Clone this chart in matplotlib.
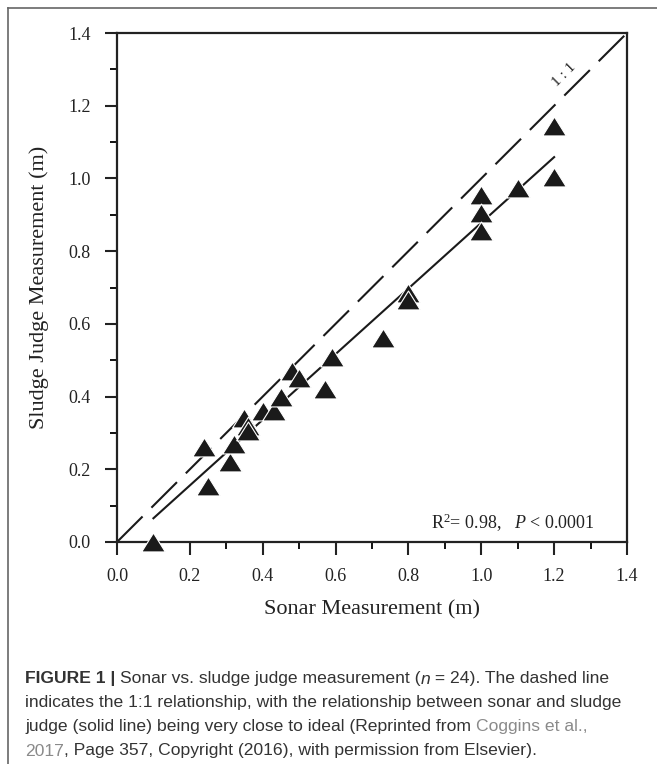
import matplotlib
matplotlib.use('Agg')
from matplotlib import pyplot as plt
from matplotlib.lines import Line2D
import numpy as np

plt.rcParams['font.family'] = 'Liberation Serif'
plt.rcParams['mathtext.fontset'] = 'custom'
plt.rcParams['mathtext.rm'] = 'Liberation Serif'
plt.rcParams['mathtext.it'] = 'Liberation Serif:italic'
plt.rcParams['lines.scale_dashes'] = False

# datos
sonar = [0.10, 0.24, 0.25, 0.31, 0.32, 0.35, 0.36, 0.36, 0.40, 0.43, 0.45, 0.48,
         0.50, 0.57, 0.59, 0.73, 0.80, 0.80, 1.00, 1.00, 1.00, 1.10, 1.20, 1.20]
judge = [0.00, 0.26, 0.155, 0.22, 0.27, 0.34, 0.32, 0.305, 0.36, 0.36, 0.40, 0.47,
         0.45, 0.42, 0.51, 0.56, 0.685, 0.665, 0.955, 0.905, 0.855, 0.975, 1.005, 1.145]
# recta de ajuste
fit_slope = 0.903
fit_int = -0.025
stats_txt = r'R$^2$= 0.98,   $\it{P}$ < 0.0001'
ticks = [0.0, 0.2, 0.4, 0.6, 0.8, 1.0, 1.2, 1.4]

W, H = 657, 764
fig = plt.figure(figsize=(W/100, H/100), dpi=100)
ax = fig.add_axes([117/W, 1-542/H, 510/W, 509/H])

# linea 1:1
ax.plot([0, 1.4], [0, 1.4], color='#1a1a1a', lw=1.5, dashes=[26, 9])
ax.text(1.228, 1.286, '1 : 1', rotation=45, ha='center', va='center',
        fontsize=11, color='#222')

# ajuste lineal
xf = np.array([min(sonar), max(sonar)])
ax.plot(xf, fit_slope*xf+fit_int, color='#1a1a1a', lw=1.5)

# triangulos
tri = [(-1, -0.8), (1, -0.8), (0, 0.8), (-1, -0.8)]
ax.plot(sonar, judge, ls='none', marker=tri, ms=17, mfc='#1a1a1a',
        mec='white', mew=0.8, zorder=3, clip_on=False)

ax.text(1.31, 0.035, stats_txt, ha='right', va='baseline', fontsize=13, color='#222')

ax.set_xlim(0, 1.4)
ax.set_ylim(0, 1.4)
ax.set_xticks(ticks)
ax.set_yticks(ticks)
ax.set_xticklabels(['%.1f' % t for t in ticks])
ax.set_yticklabels(['%.1f' % t for t in ticks])
ax.set_xticks(np.arange(0.1, 1.4, 0.2), minor=True)
ax.set_yticks(np.arange(0.1, 1.4, 0.2), minor=True)
ax.tick_params(which='major', direction='out', length=9, width=1.5, pad=10,
               labelsize=13, colors='#222')
ax.tick_params(which='minor', direction='out', length=5, width=1.3)
for s in ax.spines.values():
  s.set_linewidth(1.6)
  s.set_color('#222')
ax.set_xlabel('Sonar Measurement (m)', fontsize=16, color='#222', labelpad=11)
ax.set_ylabel('Sludge Judge Measurement (m)', fontsize=16, color='#222', labelpad=14)

# marco
fig.add_artist(Line2D([8/W, 8/W], [0, 1-8/H], color='#666', lw=1.2))
fig.add_artist(Line2D([8/W, 1], [1-8/H, 1-8/H], color='#666', lw=1.2))

# pie de figura
cap_fs = 12.6
cap_col = '#333333'
link_col = '#8a8a8a'
lines = [
  [('FIGURE 1 | ', 'bold', 'normal', cap_col), ('Sonar vs. sludge judge measurement (', 'normal', 'normal', cap_col),
   ('n', 'normal', 'italic', cap_col), (' = 24). The dashed line', 'normal', 'normal', cap_col)],
  [('indicates the 1:1 relationship, with the relationship between sonar and sludge', 'normal', 'normal', cap_col)],
  [('judge (solid line) being very close to ideal (Reprinted from ', 'normal', 'normal', cap_col),
   ('Coggins et al.,', 'normal', 'normal', link_col)],
  [('2017', 'normal', 'normal', link_col),
   (', Page 357, Copyright (2016), with permission from Elsevier).', 'normal', 'normal', cap_col)],
]
ys = [679, 703, 727, 751]
r = fig.canvas.get_renderer()
for runs, yp in zip(lines, ys):
  xp = 25
  for txt, wgt, sty, col in runs:
    t = fig.text(xp/W, 1-yp/H, txt, fontsize=cap_fs, fontweight=wgt, fontstyle=sty,
                 color=col, family='Liberation Sans', ha='left', va='center')
    xp += t.get_window_extent(renderer=r).width

fig.savefig('out.png', dpi=100)
